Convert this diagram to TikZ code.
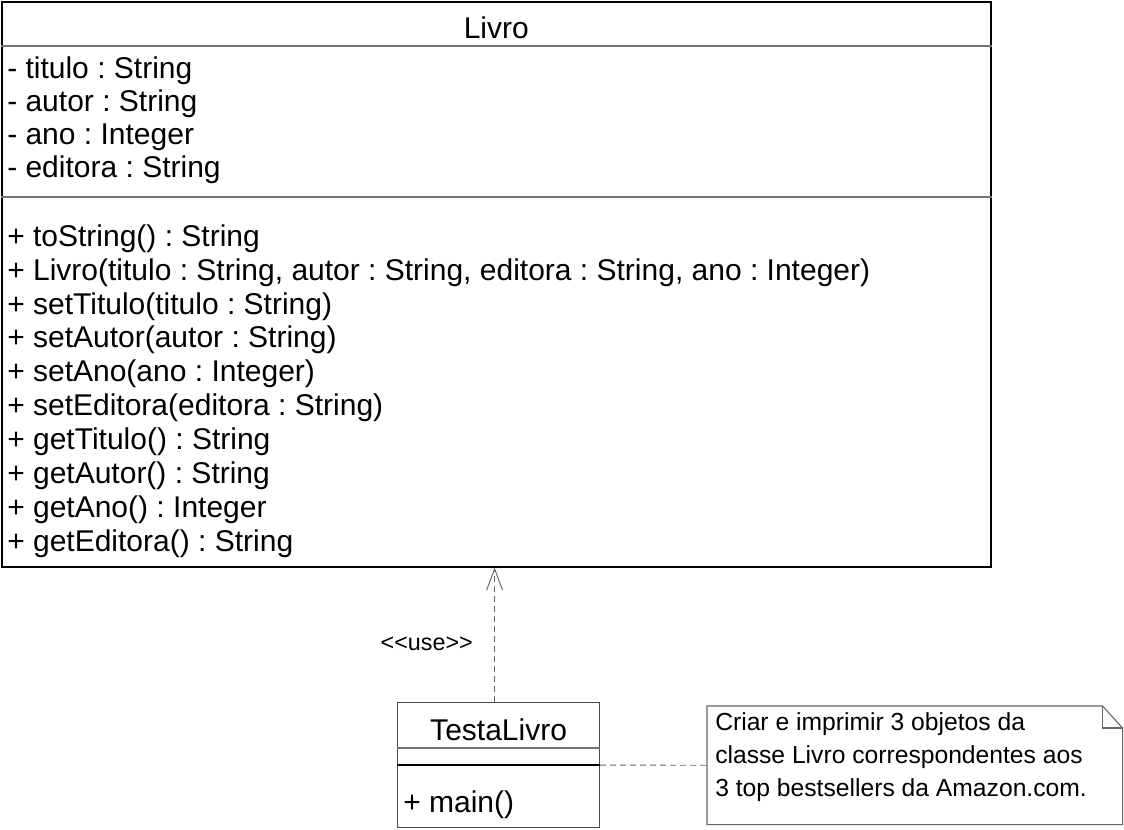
\documentclass[tikz,border=0pt]{standalone}
\usepackage{fontspec}
\setmainfont{Liberation Sans}
\usetikzlibrary{arrows.meta,positioning,calc}
\frenchspacing

\begin{document}
\begin{tikzpicture}[x=0.75pt, y=-0.75pt, font=\fontsize{22.5}{25.4}\selectfont,
  cls/.style={draw, line width=1.2pt, inner sep=0pt, anchor=north west},
  txt/.style={align=left, anchor=west, inner sep=0pt},
  sep/.style={draw=black!55, line width=0.9pt},
  dep/.style={draw=black!60, line width=0.7pt, dash pattern=on 4.5pt off 3pt},
  arr/.style={dep, -{Straight Barb[length=16pt, width=12pt, line width=0.7pt]}}]
\useasboundingbox (0,0) rectangle (1124,829);
% class Livro
\node[cls, minimum width=741.75pt, minimum height=423.75pt] (livro) at (1,1) {};
\node (livrot) at ($(livro.north)+(0,27)$) {Livro};
\draw[sep] ($(livro.north west)+(0,45)$) -- ($(livro.north east)+(0,45)$);
\draw[sep] ($(livro.north west)+(0,196)$) -- ($(livro.north east)+(0,196)$);
\node[txt, font=\fontsize{22.5}{24.8}\selectfont] (attrs) at ($(livro.north west)+(6,119)$) {- titulo : String\\- autor : String\\- ano : Integer\\- editora : String};
\node[txt] (metodos) at ($(livro.north west)+(6,390)$) {+ toString() : String\\+ Livro(titulo : String, autor : String, editora : String, ano : Integer)\\+ setTitulo(titulo : String)\\+ setAutor(autor : String)\\+ setAno(ano : Integer)\\+ setEditora(editora : String)\\+ getTitulo() : String\\+ getAutor() : String\\+ getAno() : Integer\\+ getEditora() : String};
% class TestaLivro
\node[cls, draw=black!70, line width=0.9pt, minimum width=151.5pt, minimum height=93.75pt] (testa) at (397,702) {};
\node (testat) at ($(testa.north)+(0,28)$) {TestaLivro};
\draw[sep] ($(testa.north west)+(0,46)$) -- ($(testa.north east)+(0,46)$);
\draw[line width=1.2pt] ($(testa.north west)+(0,63)$) -- ($(testa.north east)+(0,63)$);
\node[txt] (main) at ($(testa.north west)+(6,103)$) {+ main()};
% note
\node[anchor=north west, inner sep=0pt, minimum width=311.25pt, minimum height=88.5pt] (nota) at (707,706) {};
\draw[draw=black!60, line width=0.8pt] (nota.north west) -- ($(nota.north east)+(-20,0)$) -- ($(nota.north east)+(0,22)$) -- (nota.south east) -- (nota.south west) -- cycle;
\draw[draw=black!60, line width=0.8pt] ($(nota.north east)+(-20,0)$) |- ($(nota.north east)+(0,22)$);
\node[txt, font=\fontsize{18.5}{24.6}\selectfont] (notat) at ($(nota.north west)+(8,51)$) {Criar e imprimir 3 objetos da\\classe Livro correspondentes aos\\3 top bestsellers da Amazon.com.};
% connectors
\draw[arr] ([xshift=-3pt]testa.north) -- ([xshift=-3pt]testa.north |- livro.south) node[pos=0.43, left=16pt, inner sep=0pt, font=\fontsize{17.5}{20}\selectfont] (uso) {<\kern0pt<use>\kern0pt>};
\draw[dep] (testa.east) -- (nota.west);
\end{tikzpicture}
\end{document}
